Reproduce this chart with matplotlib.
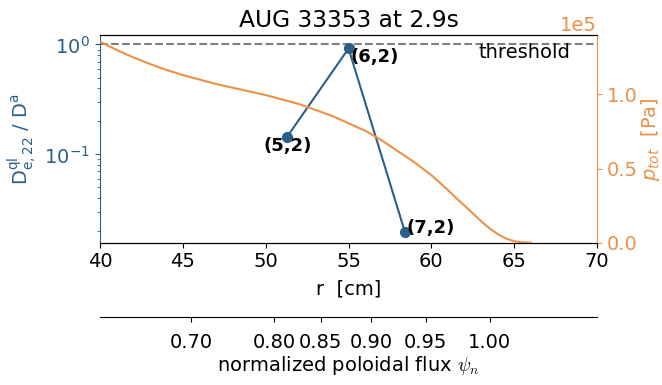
import matplotlib
matplotlib.use("Agg")
import matplotlib.pyplot as plt

plt.rcParams["font.family"] = ["DejaVu Sans"]
plt.rcParams["font.size"] = 14

# Quasilinear diffusion ratio for each (m,n) mode
mode_labels = ["(5,2)", "(6,2)", "(7,2)"]
mode_r = [51.3, 55.0, 58.4]
mode_ratio = [0.145, 0.92, 0.0197]

threshold = 1.0

# Total pressure profile [Pa]
prof_r = [40, 40.5, 41, 41.5, 42, 43, 44, 45, 46, 47, 48, 49, 50, 51, 52,
          53, 54, 55, 56, 57, 58, 59, 60, 60.5, 61, 61.5, 62, 62.5, 63,
          63.5, 64, 64.5, 65, 65.5, 66]
prof_p = [1.355e5, 1.327e5, 1.30e5, 1.274e5, 1.25e5, 1.205e5, 1.165e5,
          1.13e5, 1.10e5, 1.07e5, 1.045e5, 1.02e5, 0.995e5, 0.965e5,
          0.935e5, 0.895e5, 0.855e5, 0.805e5, 0.755e5, 0.69e5, 0.615e5,
          0.54e5, 0.455e5, 0.405e5, 0.355e5, 0.30e5, 0.25e5, 0.198e5,
          0.145e5, 0.098e5, 0.058e5, 0.028e5, 0.010e5, 0.002e5, 0.0]

# Normalized poloidal flux ticks and their radial positions
psi_ticks = [0.70, 0.80, 0.85, 0.90, 0.95, 1.00]
psi_r = [45.49, 50.5, 53.33, 56.35, 59.67, 63.53]

blue = "#2b5f8a"
orange = "#ec9148"

fig = plt.figure(figsize=(6.62, 3.85), dpi=100)
ax = fig.add_axes([0.151, 0.3696, 0.751, 0.5395])

ax.axhline(threshold, color="gray", ls="--", lw=1.5)
ax.text(68.4, 0.85, "threshold", ha="right", va="center")
ax.plot(mode_r, mode_ratio, "-o", color=blue, lw=1.5, ms=7)

offsets = [((0, -6.5), "center"), ((1.5, -6.5), "left"), ((1.5, 3.0), "left")]
for lab, r, v, (off, ha) in zip(mode_labels, mode_r, mode_ratio, offsets):
    ax.annotate(lab, (r, v), xytext=off, textcoords="offset points",
                ha=ha, va="center", fontweight="bold", fontsize=13)

ax.set_yscale("log")
ax.set_xlim(40, 70)
ax.set_ylim(0.0157, 1.22)
ax.set_xlabel("r  [cm]", labelpad=6)
ax.set_ylabel(r"$\mathrm{D}^{\mathrm{ql}}_{\mathrm{e,22}}$ / D$^{\mathrm{a}}$",
              color=blue)
ax.tick_params(axis="y", which="both", colors=blue)
ax.spines["left"].set_color(blue)
ax.spines["right"].set_visible(False)
ax.set_title("AUG 33353 at 2.9s", fontsize=16.8)

ax2 = ax.twinx()
ax2.plot(prof_r, prof_p, color=orange, lw=1.5)
ax2.set_ylim(0, 1.4e5)
ax2.set_ylabel(r"$p_{tot}$  [Pa]", color=orange, labelpad=1)
ax2.tick_params(axis="y", colors=orange)
ax2.yaxis.get_offset_text().set_color(orange)
ax2.spines["right"].set_color(orange)
ax2.spines["left"].set_visible(False)
ax2.ticklabel_format(axis="y", style="sci", scilimits=(0, 0))

# Flux coordinate axis below the radial axis
ax3 = fig.add_axes(ax.get_position())
ax3.patch.set_visible(False)
for side in ["top", "left", "right"]:
    ax3.spines[side].set_visible(False)
ax3.spines["bottom"].set_position(("outward", 53.3))
ax3.set_xlim(40, 70)
ax3.set_xticks(psi_r, [f"{p:.2f}" for p in psi_ticks])
ax3.tick_params(axis="x", pad=8)
ax3.set_yticks([])
ax3.set_xlabel(r"normalized poloidal flux $\psi_n$", labelpad=2)
ax3.xaxis.label.set_math_fontfamily("cm")

fig.savefig("out.png", dpi=100)
